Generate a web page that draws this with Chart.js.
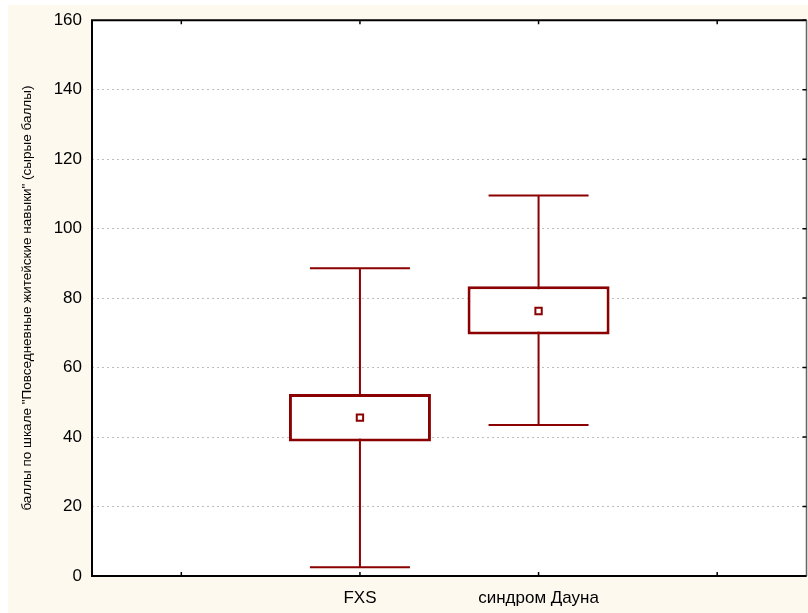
<!DOCTYPE html>
<html lang="ru">
<head>
  <meta charset="UTF-8" />
  <title>Повседневные житейские навыки</title>
  <script src="https://cdn.jsdelivr.net/npm/chart.js"></script>
  <style>
    body {
      margin: 0;
      padding: 0;
      background: #ffffff;
    }
    #wrap {
      position: absolute;
      left: 8px;
      top: 5px;
      width: 800px;
      height: 608px;
      background: #fdf9ef;
      overflow: hidden;
    }
    #grafico {
      position: absolute;
      left: 0;
      top: -5px;
    }
  </style>
</head>
<body>
  <div id="wrap"><canvas id="grafico" width="805" height="613"></canvas></div>
  <script>
    // categorias (las de los extremos vacias, como en el original)
    const categorias = ['', 'FXS', 'синдром Дауна', ''];
    const minimos = [null, 2.5, 43.5, null];
    const cuartil1 = [null, 38.7, 69.5, null];
    const medias = [null, 45.6, 76.3, null];
    const cuartil3 = [null, 52.4, 83.4, null];
    const maximos = [null, 88.6, 109.5, null];
    const ticksY = [0, 20, 40, 60, 80, 100, 120, 140, 160];
    const tituloY = 'баллы по шкале "Повседневные житейские навыки" (сырые баллы)';

    const rojo = '#8b0000';

    const cajas = categorias.map((c, i) => cuartil1[i] === null ? null : [cuartil1[i], cuartil3[i]]);

    // fondo blanco, bigotes, marco y marcas de los ejes
    const bigotes = {
      id: 'bigotes',
      beforeDraw(chart) {
        const { ctx, chartArea: a } = chart;
        ctx.save();
        ctx.fillStyle = '#fff';
        ctx.fillRect(a.left, a.top, a.right - a.left, a.bottom - a.top);
        ctx.restore();
      },
      beforeDatasetsDraw(chart) {
        const { ctx, scales: { x, y } } = chart;
        ctx.save();
        ctx.strokeStyle = rojo;
        ctx.lineWidth = 2;
        categorias.forEach((c, i) => {
          if (minimos[i] === null) return;
          const cx = x.getPixelForValue(i);
          const medio = 50;
          ctx.beginPath();
          ctx.moveTo(cx, y.getPixelForValue(minimos[i]));
          ctx.lineTo(cx, y.getPixelForValue(maximos[i]));
          ctx.moveTo(cx - medio, y.getPixelForValue(minimos[i]));
          ctx.lineTo(cx + medio, y.getPixelForValue(minimos[i]));
          ctx.moveTo(cx - medio, y.getPixelForValue(maximos[i]));
          ctx.lineTo(cx + medio, y.getPixelForValue(maximos[i]));
          ctx.stroke();
        });
        ctx.restore();
      },
      afterDraw(chart) {
        const { ctx, chartArea: a, scales: { x, y } } = chart;
        ctx.save();
        ctx.strokeStyle = '#000';
        ctx.lineWidth = 2;
        ctx.beginPath();
        ctx.moveTo(a.right, a.top);
        ctx.lineTo(a.left, a.top);
        ctx.lineTo(a.left, a.bottom);
        ctx.lineTo(a.right, a.bottom);
        ctx.stroke();
        ctx.strokeStyle = '#666';
        ctx.lineWidth = 1.5;
        ctx.beginPath();
        ctx.moveTo(a.right, a.top);
        ctx.lineTo(a.right, a.bottom);
        ctx.stroke();
        // marcas pequeñas
        ctx.strokeStyle = '#000';
        ctx.lineWidth = 1.5;
        ctx.beginPath();
        categorias.forEach((c, i) => {
          const px = x.getPixelForValue(i);
          ctx.moveTo(px, a.top);
          ctx.lineTo(px, a.top + 4);
          ctx.moveTo(px, a.bottom);
          ctx.lineTo(px, a.bottom - 4);
        });
        ticksY.forEach(v => {
          const py = y.getPixelForValue(v);
          ctx.moveTo(a.right, py);
          ctx.lineTo(a.right - 4, py);
        });
        ctx.stroke();
        ctx.restore();
      }
    };

    new Chart(document.getElementById('grafico'), {
      type: 'bar',
      data: {
        labels: categorias,
        datasets: [
          {
            type: 'line',
            label: 'среднее',
            data: medias,
            showLine: false,
            pointStyle: 'rect',
            pointRadius: 4.5,
            pointBackgroundColor: '#fff',
            pointBorderColor: rojo,
            pointBorderWidth: 2,
            order: 0
          },
          {
            label: 'квартили',
            data: cajas,
            backgroundColor: '#fff',
            borderColor: rojo,
            borderWidth: 3,
            borderSkipped: false,
            categoryPercentage: 1,
            barPercentage: 0.795,
            order: 1
          }
        ]
      },
      options: {
        responsive: false,
        animation: false,
        layout: { padding: 0 },
        plugins: {
          legend: { display: false },
          tooltip: { enabled: false }
        },
        scales: {
          x: {
            grid: { display: false },
            border: { display: false },
            ticks: {
              color: '#000',
              font: { family: 'Arial, "Liberation Sans"', size: 17 },
              padding: 4,
              maxRotation: 0,
              autoSkip: false
            },
            afterFit(s) { s.height = 37; }
          },
          y: {
            min: 0,
            max: 160,
            afterBuildTicks(s) { s.ticks = ticksY.map(v => ({ value: v })); },
            grid: { color: '#bdbdbd', lineWidth: 1, drawTicks: false },
            border: { display: false, dash: [2, 3] },
            ticks: {
              color: '#000',
              font: { family: 'Arial, "Liberation Sans"', size: 17 },
              padding: 10,
              autoSkip: false
            },
            title: {
              display: true,
              text: tituloY,
              color: '#000',
              font: { family: 'Arial, "Liberation Sans"', size: 13.5 },
              padding: { top: 11, bottom: 0 }
            },
            afterFit(s) { s.width = 84; }
          }
        }
      },
      plugins: [bigotes]
    });
  </script>
</body>
</html>
